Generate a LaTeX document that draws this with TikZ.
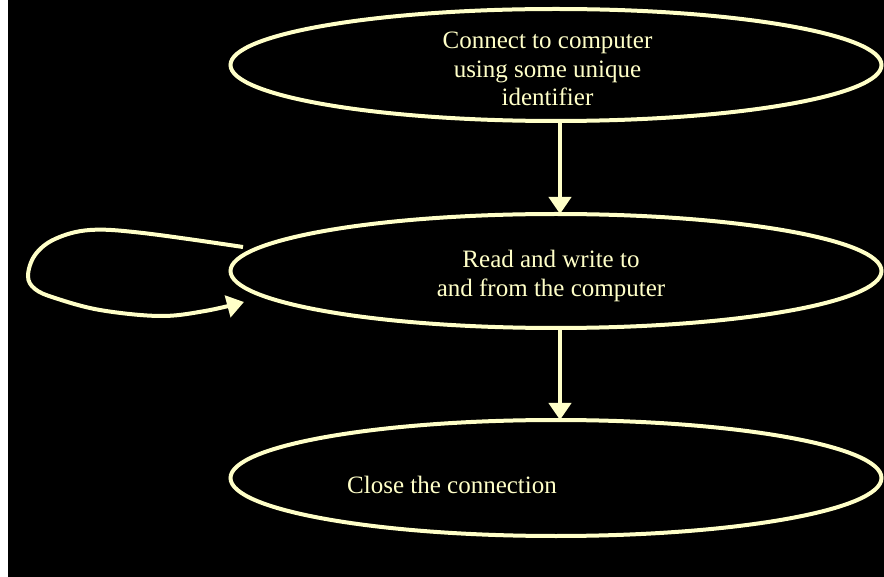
\documentclass[tikz,border=0pt]{standalone}
\usepackage{fontspec}
\setmainfont{Liberation Serif}
\usetikzlibrary{shapes.geometric,arrows.meta}
\definecolor{cream}{RGB}{255,255,200}
\tikzset{
  stage/.style={ellipse,draw=cream,line width=4pt,inner sep=0pt,outer sep=0pt,
    minimum width=651pt},
  caption/.style={text=cream,align=center,inner sep=0pt,
    font=\fontsize{25}{28.5}\selectfont},
  flow/.style={draw=cream,line width=4pt,-{Triangle[width=22pt,length=17pt]}}
}
\begin{document}
\begin{tikzpicture}[x=1pt,y=-1pt]
  % page: thin white strip on the left, black everywhere else
  \fill[white] (0,0) rectangle (884,577);
  \fill[black] (8,0) rectangle (884,577);
  \useasboundingbox (0,0) rectangle (884,577);

  % the three stages
  \node[stage,minimum height=112pt] (connect) at (556,65) {};
  \node[stage,minimum height=114pt] (rw) at (556,271) {};
  \node[stage,minimum height=116pt] (close) at (556,478) {};

  % their texts
  \node[caption] (connectText) at (547.5,69) {Connect to computer\\using some unique\\identifier};
  \node[caption] (rwText) at (551,276) {Read and write to\\and from the computer};
  \node[caption,anchor=base] (closeText) at (452,493.3) {Close the connection};

  % flow between stages
  \draw[flow] ([xshift=4pt]connect.south) -- ([xshift=4pt]rw.north);
  \draw[flow] ([xshift=4pt]rw.south) -- ([xshift=4pt]close.north);

  % repeat loop on the read/write stage
  \coordinate (loopStart) at (243,247);
  \coordinate (loopEnd) at (244,302);
  \draw[flow] plot[smooth,tension=0.6] coordinates
    {(loopStart) (143,233) (90,230) (55,239) (35,255) (28,276) (35,289) (55,298)
     (100,310) (160,316) (205,311) (loopEnd)};
\end{tikzpicture}
\end{document}
